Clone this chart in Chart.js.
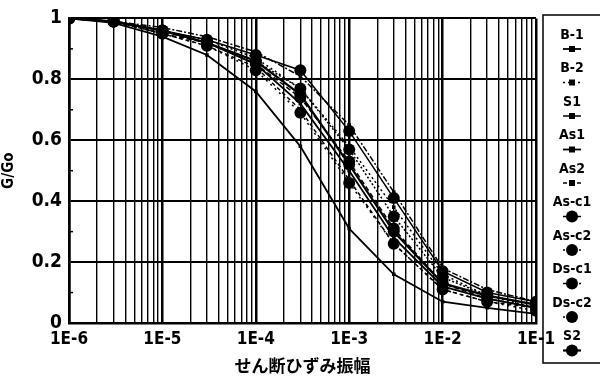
<!DOCTYPE html>
<html>
<head>
<meta charset="utf-8">
<script src="https://cdn.jsdelivr.net/npm/chart.js@4.4.1/dist/chart.umd.min.js"></script>
<style>
  html, body { margin: 0; padding: 0; background: #fff; }
  #wrap { width: 600px; height: 378px; }
</style>
</head>
<body>
<div id="wrap"><canvas id="gChart" width="600" height="378"></canvas></div>
<script>
// strain amplitude (x) and G/Go for each sample
const strain = [1e-6, 3e-6, 1e-5, 3e-5, 1e-4, 3e-4, 1e-3, 3e-3, 1e-2, 3e-2, 1e-1];

const b1   = [1, 0.985, 0.94, 0.88, 0.76, 0.58, 0.31, 0.16, 0.07, 0.05, 0.03];
const b2   = [1, 0.99, 0.96, 0.93, 0.87, 0.77, 0.58, 0.38, 0.16, 0.09, 0.05];
const s1   = [1, 0.99, 0.97, 0.94, 0.89, 0.81, 0.65, 0.43, 0.18, 0.11, 0.07];
const as1  = [1, 0.99, 0.96, 0.92, 0.85, 0.72, 0.50, 0.28, 0.12, 0.08, 0.05];
const as2  = [1, 0.99, 0.95, 0.91, 0.84, 0.70, 0.47, 0.26, 0.11, 0.07, 0.05];
const asc1 = [1, 0.99, 0.96, 0.93, 0.88, 0.83, 0.63, 0.41, 0.17, 0.10, 0.07];
const asc2 = [1, 0.99, 0.96, 0.92, 0.86, 0.77, 0.57, 0.35, 0.15, 0.09, 0.06];
const dsc1 = [1, 0.99, 0.95, 0.92, 0.85, 0.74, 0.53, 0.31, 0.13, 0.08, 0.05];
const dsc2 = [1, 0.99, 0.95, 0.91, 0.83, 0.69, 0.46, 0.26, 0.11, 0.07, 0.04];
const s2   = [1, 0.99, 0.96, 0.92, 0.86, 0.75, 0.52, 0.30, 0.13, 0.09, 0.06];

const seriesNames = ['B-1', 'B-2', 'S1', 'As1', 'As2', 'As-c1', 'As-c2', 'Ds-c1', 'Ds-c2', 'S2'];
const seriesData = [b1, b2, s1, as1, as2, asc1, asc2, dsc1, dsc2, s2];

const yTicks = [0, 0.2, 0.4, 0.6, 0.8, 1];
const yMinor = [0.1, 0.3, 0.5, 0.7, 0.9];

const FONT = "'DejaVu Sans Condensed', 'Liberation Sans Narrow', sans-serif";
const JFONT = "'Noto Sans CJK JP', sans-serif";

// line looks per series
const dashes = [[], [2, 3], [6, 2, 2, 2], [], [4, 3], [], [2, 2], [5, 3], [2, 4], []];
const widths = [1.8, 1.5, 1.5, 1.8, 1.5, 1.5, 1.5, 1.5, 1.5, 2.2];

function toPoints(arr) {
    return arr.map(function (v, i) { return { x: strain[i], y: v }; });
}

const datasets = seriesNames.map(function (name, i) {
    const big = i >= 5;
    return {
        label: name,
        data: toPoints(seriesData[i]),
        borderColor: '#000',
        backgroundColor: '#000',
        borderWidth: widths[i],
        borderDash: dashes[i],
        pointStyle: big ? 'circle' : 'rect',
        pointRadius: big ? 6 : 2.5,
        pointBorderWidth: 0,
        fill: false,
        tension: 0
    };
});

function isDecade(v) {
    const e = Math.log10(v);
    return Math.abs(e - Math.round(e)) < 1e-6;
}

// small minor ticks on the inside of the y axis
const minorTicks = {
    id: 'minorTicks',
    afterDraw(chart) {
        const c = chart.ctx;
        const y = chart.scales.y;
        c.save();
        c.strokeStyle = '#000';
        c.lineWidth = 1.5;
        yMinor.forEach(function (v) {
            const py = y.getPixelForValue(v);
            c.beginPath();
            c.moveTo(chart.chartArea.left, py);
            c.lineTo(chart.chartArea.left + 4, py);
            c.stroke();
        });
        c.restore();
    }
};

// legend box on the right: label above, marker below
const sideLegend = {
    id: 'sideLegend',
    afterDraw(chart) {
        const c = chart.ctx;
        c.save();
        c.strokeStyle = '#000';
        c.lineWidth = 1.5;
        c.strokeRect(543, 15, 80, 348);
        c.fillStyle = '#000';
        c.textAlign = 'center';
        c.textBaseline = 'middle';
        c.font = 'bold 14px ' + FONT;
        chart.data.datasets.forEach(function (ds, i) {
            const ty = 35 + i * 33.5;
            const my = ty + 14;
            c.fillText(ds.label, 572, ty);
            c.lineWidth = ds.borderWidth;
            c.setLineDash(ds.borderDash);
            c.beginPath();
            c.moveTo(563, my);
            c.lineTo(581, my);
            c.stroke();
            c.setLineDash([]);
            c.beginPath();
            if (ds.pointStyle === 'rect') {
                c.rect(569, my - 3, 6, 6);
            } else {
                c.arc(572, my, 6, 0, Math.PI * 2);
            }
            c.fill();
        });
        c.restore();
    }
};

const ctx = document.getElementById('gChart').getContext('2d');
const gChart = new Chart(ctx, {
    type: 'line',
    data: { datasets: datasets },
    options: {
        responsive: false,
        animation: false,
        layout: { padding: { left: 0, right: 64, top: 15, bottom: 0 } },
        plugins: {
            legend: { display: false },
            tooltip: { enabled: false }
        },
        scales: {
            x: {
                type: 'logarithmic',
                min: 1e-6,
                max: 1e-1,
                afterBuildTicks(scale) {
                    const t = [];
                    for (let e = -6; e <= -1; e++) {
                        for (let m = 1; m <= 9; m++) {
                            const v = m * Math.pow(10, e);
                            if (v <= 0.1000001) t.push({ value: v });
                        }
                    }
                    scale.ticks = t;
                },
                afterFit(scale) { scale.height = 55; },
                ticks: {
                    autoSkip: false,
                    maxRotation: 0,
                    padding: 6,
                    color: '#000',
                    font: { family: FONT, size: 17, weight: 'bold' },
                    callback(v) {
                        if (!isDecade(v)) return '';
                        return '1E' + Math.round(Math.log10(v));
                    }
                },
                grid: {
                    color: '#000',
                    drawTicks: false,
                    lineWidth(c) {
                        return c.tick && isDecade(c.tick.value) ? 2.5 : 1.4;
                    }
                },
                border: { color: '#000', width: 2.5 },
                title: {
                    display: true,
                    text: 'せん断ひずみ振幅',
                    color: '#000',
                    font: { family: JFONT, size: 17, weight: 'bold' },
                    padding: { top: 0, bottom: 2 }
                }
            },
            y: {
                min: 0,
                max: 1,
                afterBuildTicks(scale) {
                    scale.ticks = yTicks.map(function (v) { return { value: v }; });
                },
                afterFit(scale) { scale.width = 69; },
                ticks: {
                    padding: 7,
                    color: '#000',
                    font: { family: FONT, size: 19, weight: 'bold' },
                    callback(v) { return String(v); }
                },
                grid: { color: '#000', lineWidth: 2, drawTicks: false },
                border: { color: '#000', width: 2.5 },
                title: {
                    display: true,
                    text: 'G/Go',
                    color: '#000',
                    font: { family: FONT, size: 15, weight: 'bold' },
                    padding: { top: 0, bottom: 0 }
                }
            }
        }
    },
    plugins: [minorTicks, sideLegend]
});
</script>
</body>
</html>
